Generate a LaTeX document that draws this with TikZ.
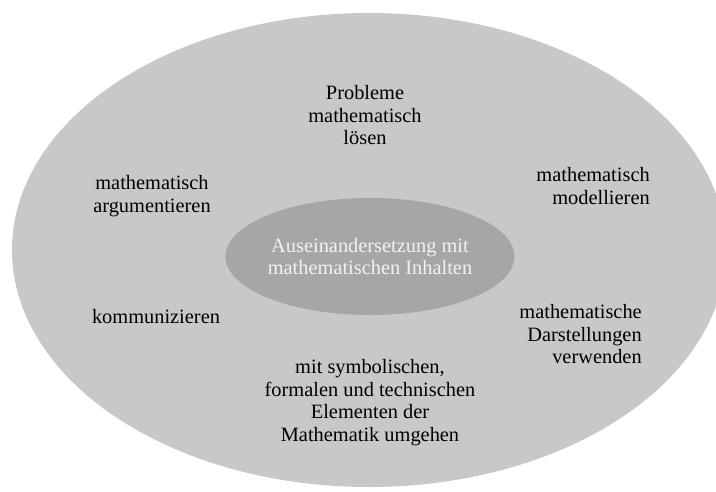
\documentclass[tikz,border=0pt]{standalone}
\usepackage{fontspec}
\setmainfont{Liberation Serif}
\usetikzlibrary{shapes.geometric}
\definecolor{hellgrau}{RGB}{200,200,200}
\definecolor{dunkelgrau}{RGB}{166,166,166}

\begin{document}
\begin{tikzpicture}[x=0.025cm, y=-0.025cm, font=\fontsize{14.5}{16}\selectfont]
  \tikzstyle{kompetenz}=[align=center, inner sep=0pt, text=black]
  \tikzstyle{inhalt}=[ellipse, fill=dunkelgrau, text=white!95!black, inner sep=0pt,
                      minimum width=5.45cm, minimum height=2.925cm, align=center]
  \useasboundingbox (0,0) rectangle (716,492);
  \fill[hellgrau] (369,250) ellipse [x radius=357, y radius=237]; % aussen
  \node[inhalt]    (I)  at (370,256.5) {Auseinandersetzung mit\\mathematischen Inhalten};
  \node[kompetenz] (K1) at (365,115.5) {Probleme\\mathematisch\\lösen};
  \node[kompetenz] (K2) at (152,196)   {mathematisch\\argumentieren};
  \node[kompetenz, align=right, anchor=east] (K3) at (650,186) {mathematisch\\modellieren};
  \node[kompetenz, anchor=base] (K4) at (156,323) {kommunizieren};
  \node[kompetenz, align=right, anchor=east] (K5) at (642,334.5) {mathematische\\Darstellungen\\verwenden};
  \node[kompetenz] (K6) at (370,402.5) {mit symbolischen,\\formalen und technischen\\Elementen der\\Mathematik umgehen};
\end{tikzpicture}
\end{document}
